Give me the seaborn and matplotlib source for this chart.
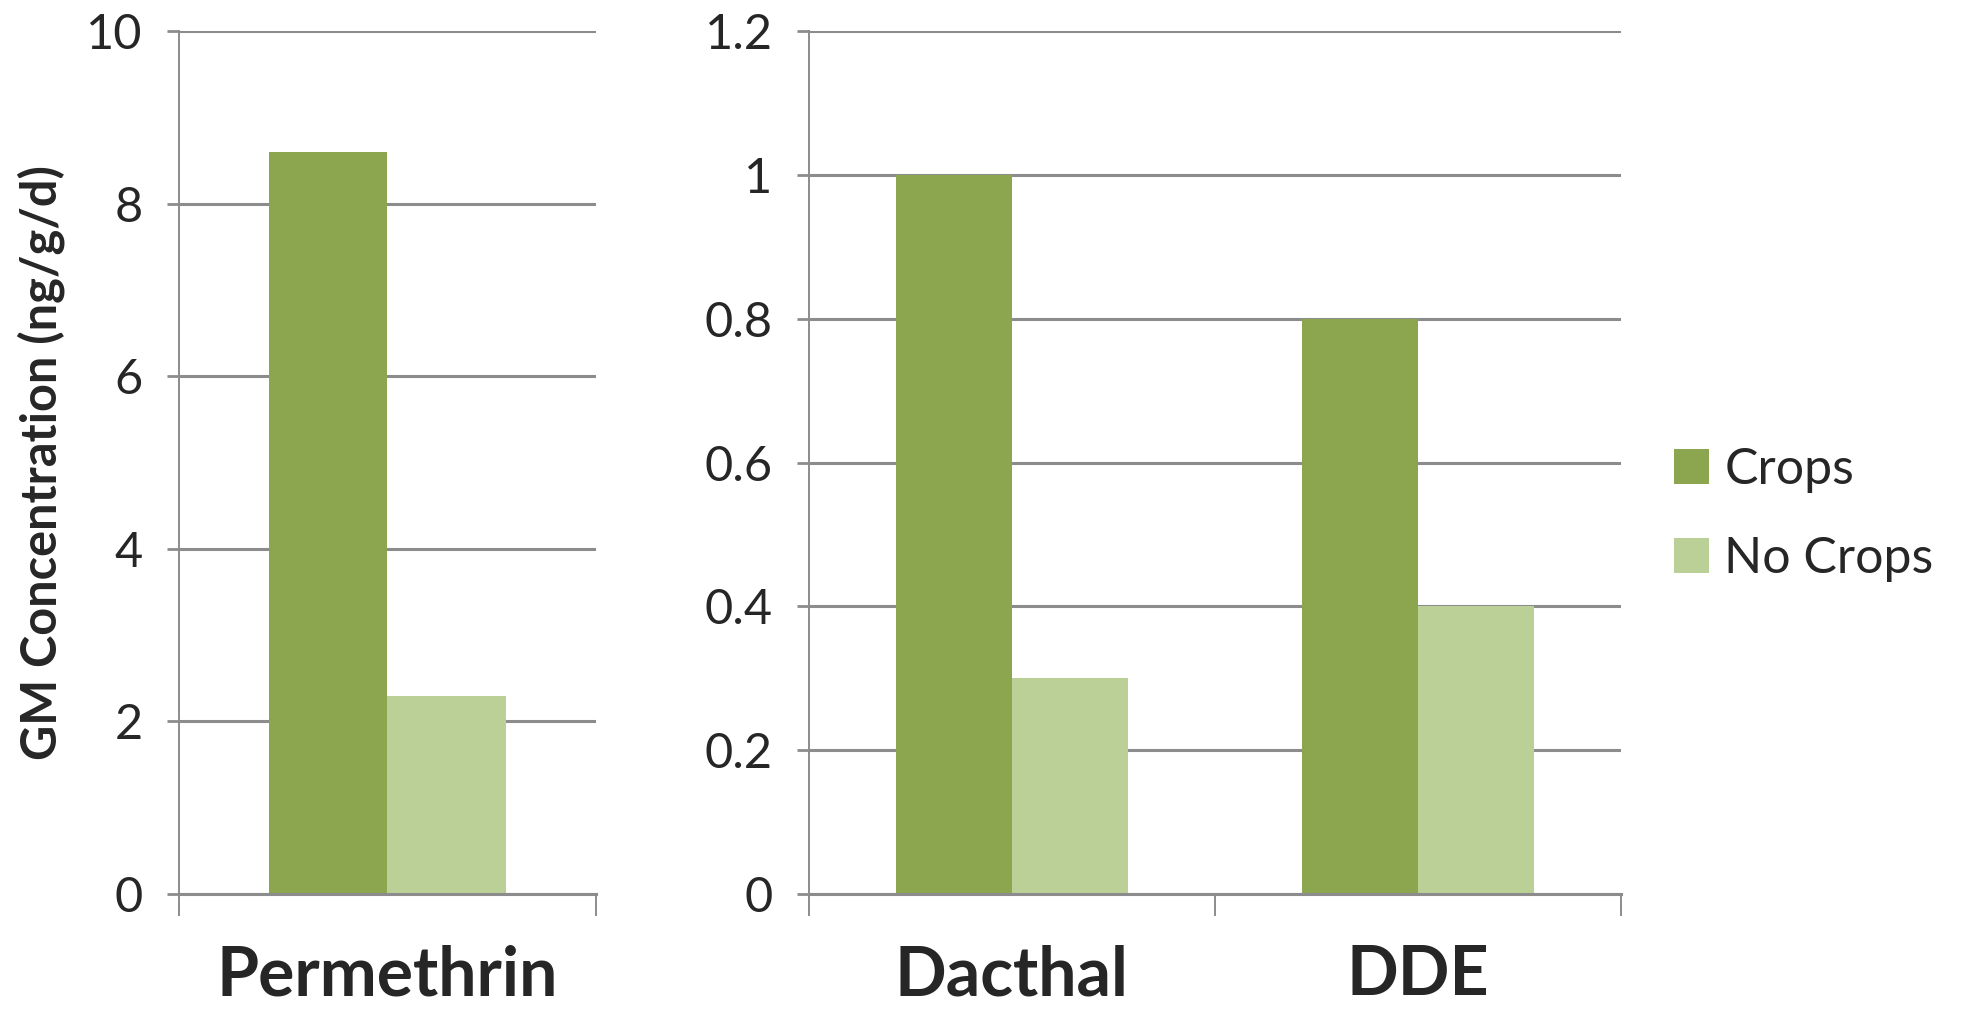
import matplotlib
matplotlib.use("Agg")
import matplotlib.pyplot as plt
from matplotlib.patches import Patch
import seaborn as sns
import pandas as pd

# Geometric-mean concentrations (ng/g/d) by pesticide and crop proximity
left_chemicals = ["Permethrin"]
left_crops = [8.6]
left_no_crops = [2.3]

right_chemicals = ["Dacthal", "DDE"]
right_crops = [1.0, 0.8]
right_no_crops = [0.3, 0.4]

groups = ["Crops", "No Crops"]
colors = ["#8BA64F", "#BBD097"]

left_ticks = [0, 2, 4, 6, 8, 10]
right_ticks = [0, 0.2, 0.4, 0.6, 0.8, 1, 1.2]
right_tick_labels = ["0", "0.2", "0.4", "0.6", "0.8", "1", "1.2"]


def long_frame(chems, crops, no_crops):
    rows = []
    for c, a, b in zip(chems, crops, no_crops):
        rows.append({"chemical": c, "group": groups[0], "value": a})
        rows.append({"chemical": c, "group": groups[1], "value": b})
    return pd.DataFrame(rows)


sns.set_theme(style="white")
plt.rcParams["font.family"] = ["Lato", "DejaVu Sans"]

fig = plt.figure(figsize=(19.63, 10.11), dpi=100)
ax_l = fig.add_axes([0.0912, 0.1157, 0.2124, 0.8536])
ax_r = fig.add_axes([0.412, 0.1157, 0.4137, 0.8536])

grid_color = "#8C8C8C"
palette = dict(zip(groups, colors))


def style_axis(ax, ticks, labels, ymax):
    ax.set_ylim(0, ymax)
    ax.set_yticks(ticks)
    ax.set_yticklabels(labels)
    ax.yaxis.grid(True, color=grid_color, linewidth=2.2)
    ax.xaxis.grid(False)
    ax.set_axisbelow(True)
    for side in ["top", "right"]:
        ax.spines[side].set_visible(False)
    for side in ["left", "bottom"]:
        ax.spines[side].set_color(grid_color)
        ax.spines[side].set_linewidth(1.4)
    ax.spines["bottom"].set_linewidth(2.2)
    ax.tick_params(axis="y", which="major", direction="out", length=9,
                   width=2.0, color=grid_color, labelsize=35, pad=17,
                   left=True)
    n = len(ax.get_xticks())
    ax.set_xlim(-0.5, n - 0.5)
    ax.set_xticks([i - 0.5 for i in range(n + 1)], minor=True)
    ax.tick_params(axis="x", which="minor", direction="out", length=16,
                   width=1.4, color=grid_color, bottom=True)
    ax.tick_params(axis="x", which="major", length=0, pad=36)
    for lbl in ax.get_xticklabels():
        lbl.set_fontsize(49)
        lbl.set_fontweight("bold")
    ax.set_xlabel("")
    ax.set_ylabel("")


df_l = long_frame(left_chemicals, left_crops, left_no_crops)
df_r = long_frame(right_chemicals, right_crops, right_no_crops)

sns.barplot(data=df_l, x="chemical", y="value", hue="group",
            palette=palette, width=0.57, saturation=1, ax=ax_l,
            legend=False, edgecolor="none", linewidth=0)
sns.barplot(data=df_r, x="chemical", y="value", hue="group",
            palette=palette, width=0.57, saturation=1, ax=ax_r,
            legend=False, edgecolor="none", linewidth=0)

style_axis(ax_l, left_ticks, [str(t) for t in left_ticks], 10)
style_axis(ax_r, right_ticks, right_tick_labels, 1.2)

fig.text(0.021, 0.542, "GM Concentration (ng/g/d)", rotation=90,
         ha="center", va="center", fontsize=35, fontweight="bold")

handles = [Patch(facecolor=c, edgecolor="none", label=g)
           for g, c in zip(groups, colors)]
fig.legend(handles=handles, loc="center left",
           bbox_to_anchor=(0.853, 0.491), frameon=False, fontsize=36,
           handlelength=0.7, handleheight=0.7, handletextpad=0.3,
           labelspacing=0.86, borderpad=0, borderaxespad=0)

fig.savefig("out.png", dpi=100, facecolor="white")
